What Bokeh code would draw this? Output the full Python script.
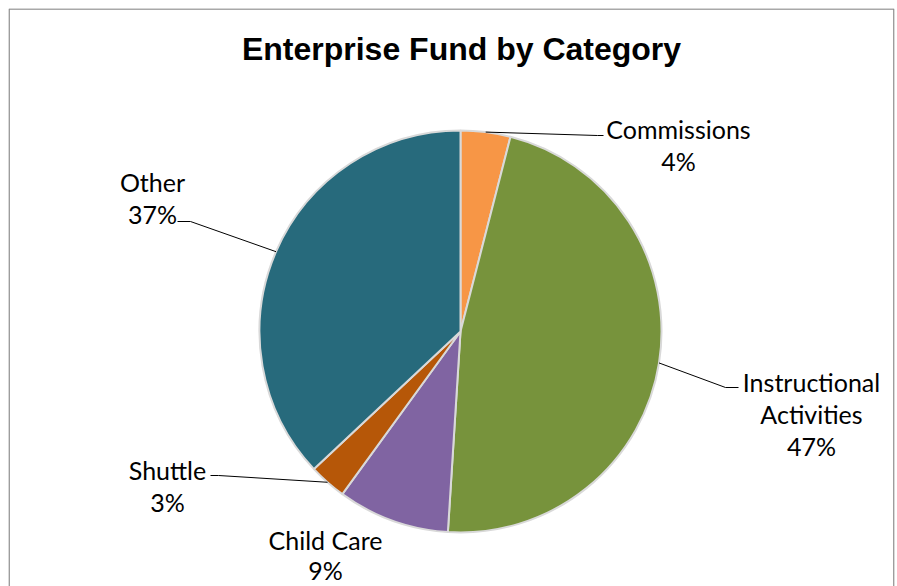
import numpy as np
from bokeh.plotting import figure
from bokeh.models import Range1d, ColumnDataSource
from bokeh.core.properties import value
from bokeh.embed import file_html
from bokeh.resources import INLINE

# ---- data ----
title_text = "Enterprise Fund by Category"
categories = ["Commissions", "Instructional Activities", "Child Care", "Shuttle", "Other"]
shares = [4, 47, 9, 3, 37]
colors = ["#F79646", "#77933C", "#8064A2", "#B65708", "#276A7C"]
label_lines = [["Commissions"], ["Instructional", "Activities"], ["Child Care"], ["Shuttle"], ["Other"]]

# ---- layout (screen pixel positions, converted below) ----
FW, FH = 886, 578   # frame size
OFF = 8


def sx(x):
    return x - OFF


def sy(y):
    return FH + OFF - y


cx, cy, R = 460, 331, 201
label_pos = [(678, 128), (811, 381), (325, 539), (167, 469), (152, 181)]
line_steps = [32, 32, 30, 32, 32]
leader_elbow = [(597, 135), (725, 387), None, (218, 475), (190, 221)]
leader_end = [(603, 135), (738, 387), None, (210, 475), (177, 221)]

p = figure(width=FW + OFF + 1, height=FH + OFF,
           x_range=Range1d(0, FW), y_range=Range1d(0, FH),
           output_backend="svg", toolbar_location=None,
           min_border_left=OFF, min_border_top=OFF, min_border_right=1, min_border_bottom=0,
           x_axis_location=None, y_axis_location=None,
           outline_line_color=None,
           background_fill_color="white", border_fill_color="white")
p.grid.visible = False

# chart frame (left, top, right; bottom runs off the page)
p.line(x=[0.6, 0.6, FW - 0.6, FW - 0.6], y=[-20, FH - 0.6, FH - 0.6, -20],
       line_color="#8c8c8c", line_width=1.5)

vals = np.array(shares, dtype=float)
frac = vals / vals.sum()
cum = np.cumsum(frac)
prev = np.concatenate([[0.0], cum[:-1]])
start = np.pi / 2 - 2 * np.pi * prev
end = np.pi / 2 - 2 * np.pi * cum
mid = np.pi / 2 - 2 * np.pi * (prev + frac / 2)

src = ColumnDataSource(dict(x=[sx(cx)] * len(vals), y=[sy(cy)] * len(vals),
                            start=start, end=end, color=colors, cat=categories))
p.wedge(x="x", y="y", radius=R, start_angle="start", end_angle="end",
        direction="clock", fill_color="color", line_color="#d9d9d9",
        line_width=2, source=src)

# leader lines
xs, ys = [], []
for i in range(len(vals)):
    if leader_end[i] is None:
        continue
    x0 = sx(cx) + R * np.cos(mid[i])
    y0 = sy(cy) + R * np.sin(mid[i])
    ex, ey = leader_elbow[i]
    fx, fy = leader_end[i]
    xs.append([x0, sx(ex), sx(fx)])
    ys.append([y0, sy(ey), sy(fy)])
p.multi_line(xs=xs, ys=ys, line_color="black", line_width=1)

# labels
tx, ty, tt = [], [], []
for i in range(len(vals)):
    lx, ly = label_pos[i]
    lines = label_lines[i] + ["%d%%" % round(frac[i] * 100)]
    for k, t in enumerate(lines):
        tx.append(sx(lx))
        ty.append(sy(ly + k * line_steps[i]))
        tt.append(t)
p.text(x=tx, y=ty, text=tt, text_font=value("Lato"), text_font_size="25px",
       text_align="center", text_baseline="middle", text_color="black")

# title
p.text(x=[sx(461)], y=[sy(48)], text=[title_text], text_font=value("Liberation Sans"),
       text_font_size="32px", text_font_style="bold", text_align="center",
       text_baseline="middle", text_color="black")

open("out.html", "w").write(file_html(p, INLINE))
